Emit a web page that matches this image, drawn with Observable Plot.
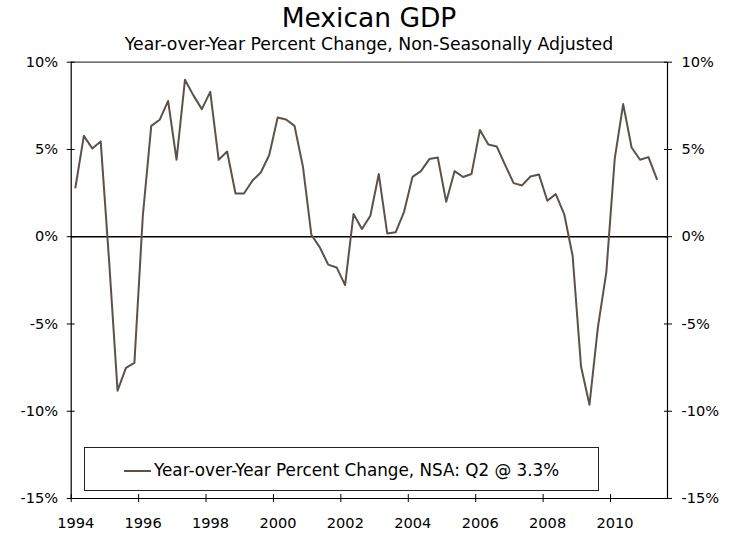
<!DOCTYPE html>
<html>
<head>
<meta charset="utf-8">
<script src="https://cdn.jsdelivr.net/npm/d3@7"></script>
<script src="https://cdn.jsdelivr.net/npm/@observablehq/plot@0.6"></script>
<style>
  html, body { margin: 0; padding: 0; background: #fff; }
  #wrap { position: relative; width: 738px; height: 533px; font-family: "DejaVu Sans", Verdana, sans-serif; color: #000; overflow: hidden; }
  #head { position: relative; width: 738px; height: 54px; }
  #title { position: absolute; left: 0; top: 3px; width: 738px; text-align: center; font-size: 26.5px; line-height: 30px; }
  #subtitle { position: absolute; left: 0; top: 34px; width: 738px; text-align: center; font-size: 17.3px; line-height: 20px; }
  #legend { position: absolute; left: 84px; top: 447px; width: 515px; height: 44px; box-sizing: border-box; border: 1px solid #222; background: #fff; }
  #legend svg { position: absolute; left: 39px; top: 21px; }
  #legend span { position: absolute; left: 69px; top: 12px; font-size: 16.8px; line-height: 20px; white-space: nowrap; }
  #chart svg { display: block; }
</style>
</head>
<body>
<div id="wrap">
  <div id="head">
    <div id="title">Mexican GDP</div>
    <div id="subtitle">Year-over-Year Percent Change, Non-Seasonally Adjusted</div>
  </div>
  <div id="chart"></div>
  <div id="legend">
    <svg width="28" height="4"><line x1="0" y1="2" x2="27" y2="2" stroke="#5c5249" stroke-width="2"/></svg>
    <span>Year-over-Year Percent Change, NSA: Q2 @ 3.3%</span>
  </div>
</div>
<script>
// Quarterly year-over-year % change, 1994 Q1 – 2011 Q2
const years = [1994, 1995, 1996, 1997, 1998, 1999, 2000, 2001, 2002, 2003, 2004, 2005, 2006, 2007, 2008, 2009, 2010, 2011];
const gdpYoY = [
  2.82, 5.78, 5.06, 5.46,
  -1.4, -8.82, -7.52, -7.23,
  1.2, 6.35, 6.70, 7.78,
  4.41, 8.99, 8.10, 7.31,
  8.30, 4.41, 4.88, 2.48,
  2.48, 3.21, 3.68, 4.68,
  6.83, 6.72, 6.35, 4.01,
  0.11, -0.61, -1.60, -1.76,
  -2.77, 1.30, 0.44, 1.20,
  3.59, 0.19, 0.25, 1.43,
  3.43, 3.76, 4.45, 4.54,
  2.00, 3.76, 3.42, 3.59,
  6.12, 5.28, 5.17, 4.10,
  3.07, 2.94, 3.45, 3.57,
  2.06, 2.44, 1.30, -1.09,
  -7.44, -9.63, -5.19, -2.04,
  4.48, 7.60, 5.11, 4.41,
  4.56, 3.30
];
const xTicks = [1994, 1996, 1998, 2000, 2002, 2004, 2006, 2008, 2010];
const yTicks = [-15, -10, -5, 0, 5, 10];
const xDomain = [1994, 2011.69];
const yDomain = [-15, 10];

// Points placed at mid-quarter
const data = gdpYoY.map((v, i) => ({
  t: years[0] + Math.floor(i / 4) + (i % 4) / 4 + 0.125,
  v
}));

const pct = d => d + "%";
const lineColor = "#5c5249";

const chart = Plot.plot({
  width: 738,
  height: 479,
  marginLeft: 70.7,
  marginRight: 71,
  marginTop: 7.7,
  marginBottom: 35,
  x: { domain: xDomain, axis: null },
  y: { domain: yDomain, axis: null },
  style: { fontFamily: "DejaVu Sans, Verdana, sans-serif", fontSize: "14.6px", color: "#000", background: "#fff", overflow: "visible" },
  marks: [
    // frame
    Plot.ruleY([yDomain[1]], { stroke: "#444", strokeWidth: 1.2 }),
    Plot.ruleX([xDomain[0]], { stroke: "#000", strokeWidth: 1.2 }),
    Plot.ruleX([xDomain[1]], { stroke: "#000", strokeWidth: 1.2 }),
    Plot.ruleY([yDomain[0]], { stroke: "#000", strokeWidth: 1.2 }),
    Plot.ruleY([0], { stroke: "#000", strokeWidth: 1.5 }),
    // left axis: ticks crossing the axis line, then labels
    Plot.axisY({ anchor: "left", ticks: yTicks, tickSize: 8, dx: 4, fill: "none", stroke: "#000", label: null }),
    Plot.axisY({ anchor: "left", ticks: yTicks, tickSize: 0, tickPadding: 13, tickFormat: pct, fill: "#000", label: null }),
    // right axis
    Plot.axisY({ anchor: "right", ticks: yTicks, tickSize: 8, dx: -4, fill: "none", stroke: "#000", label: null }),
    Plot.axisY({ anchor: "right", ticks: yTicks, tickSize: 0, tickPadding: 14, tickFormat: pct, fill: "#000", label: null }),
    // bottom axis
    Plot.axisX({ anchor: "bottom", ticks: xTicks, tickSize: 8, dy: -4, fill: "none", stroke: "#000", label: null }),
    Plot.axisX({ anchor: "bottom", ticks: xTicks, tickSize: 0, tickPadding: 19, dx: 4.5, tickFormat: d => String(d), fill: "#000", label: null }),
    // series
    Plot.line(data, { x: "t", y: "v", stroke: lineColor, strokeWidth: 2 })
  ]
});
document.getElementById("chart").appendChild(chart);
</script>
</body>
</html>
